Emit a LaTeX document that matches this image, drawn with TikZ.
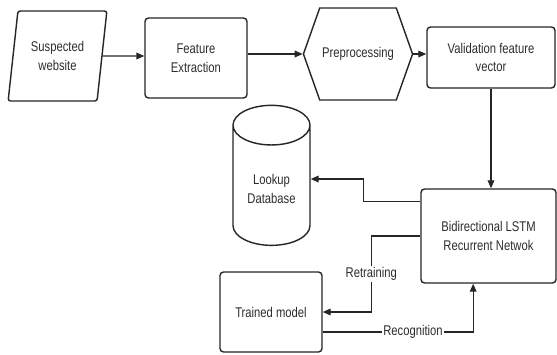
\documentclass[tikz,border=0pt]{standalone}
\usepackage{fontspec}
\setmainfont{Liberation Sans}[FakeStretch=0.8]
\usepackage{tikz}
\usetikzlibrary{arrows.meta}
\usetikzlibrary{shapes.geometric,shapes.symbols}
\usepackage{xcolor}
\definecolor{LineCol}{RGB}{38,38,38}
\definecolor{TextCol}{RGB}{45,45,45}
\tikzstyle{BaseShape}=[draw=LineCol,fill=white,line width=1.2pt,align=center,text=TextCol,
font=\fontsize{12}{16}\selectfont,inner sep=2pt]
\tikzstyle{StepBox}=[BaseShape,rectangle,rounded corners=3pt]
\tikzstyle{InputShape}=[BaseShape,trapezium,trapezium left angle=78,trapezium right angle=102,
trapezium stretches=true,rounded corners=2pt]
\tikzstyle{PrepShape}=[BaseShape,signal,signal to=east and west,signal pointer angle=141]
\tikzstyle{StoreShape}=[BaseShape,cylinder,shape border rotate=90,aspect=0.75]
\tikzstyle{Flow}=[LineCol,line width=1.1pt,-{Triangle[length=2.4mm,width=2mm]}]
\tikzstyle{FlowLabel}=[fill=white,text=TextCol,inner sep=1pt,font=\fontsize{12}{14}\selectfont]

\begin{document}
\begin{tikzpicture}[x=0.03cm,y=-0.03cm]
        \useasboundingbox(0,0)rectangle(557,354);
        % top row
        \node[InputShape,minimum width=2.97cm,minimum height=2.7cm](site)at(57.5,56){Suspected\\website};
        \node[StepBox,minimum width=3.06cm,minimum height=2.4cm](fe)at(196,58){Feature\\Extraction};
        \node[PrepShape,minimum width=2.94cm,minimum height=2.76cm](pre)at(358,54){Preprocessing};
        \node[StepBox,minimum width=3.84cm,minimum height=1.83cm](vfv)at(491,57.5){Validation feature\\vector};
        % lower part
        \node[StoreShape,minimum width=2.31cm,minimum height=4.2cm](db)at(271.5,189){Lookup\\Database};
        \node[StepBox,minimum width=4.05cm,minimum height=2.82cm](lstm)at(488.5,236){Bidirectional LSTM\\Recurrent Netwok};
        \node[StepBox,minimum width=3.06cm,minimum height=2.4cm](tm)at(271,312){Trained model};
        \draw[Flow](site)--(site-|fe.west);
        \draw[Flow](fe.east|-pre.west)--(pre.west);
        \draw[Flow](pre.east)--(pre.east-|vfv.west);
        \draw[Flow](vfv)--(vfv|-lstm.north);
        \draw[Flow]([yshift=-0.4cm]lstm.north west)--++(-57,0)|-([yshift=0.3cm]db.east);
        \draw[Flow](lstm.west)--++(-49,0)|-(tm.east)node[FlowLabel,pos=0.25]{Retraining};
        \draw[Flow]([yshift=-0.6cm]tm.east)-|([xshift=-0.46cm]lstm.south)node[FlowLabel,pos=0.3]{Recognition};
    \end{tikzpicture}
\end{document}
